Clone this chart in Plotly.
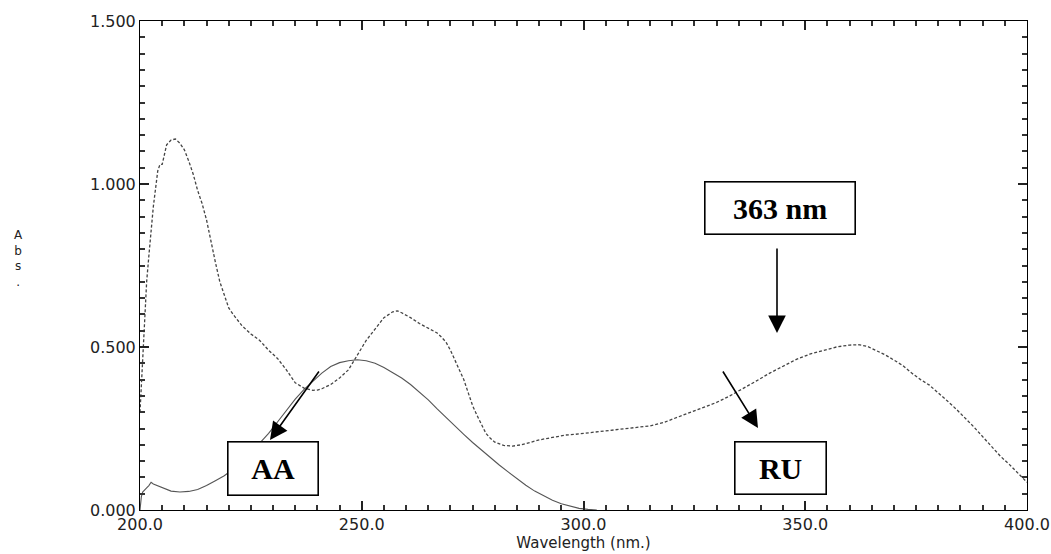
import plotly.graph_objects as go

# ---- data ----
aa_wl = [200, 200.3, 200.6, 201, 201.5, 202, 202.5, 203, 205, 207, 209, 211, 213, 215, 217, 219, 221, 223, 225,
         227, 229, 231, 233, 235, 237, 239, 241, 243, 245, 247, 249, 251, 253, 255, 257, 259, 261, 263,
         265, 267, 269, 271, 273, 275, 277, 279, 281, 283, 285, 287, 289, 291, 293, 295, 297, 299, 301, 303]
aa_abs = [0.0, 0.04, 0.055, 0.062, 0.068, 0.075, 0.085, 0.08, 0.068, 0.058, 0.055, 0.057, 0.063, 0.075, 0.09,
          0.105, 0.125, 0.15, 0.178, 0.205, 0.235, 0.27, 0.305, 0.34, 0.37, 0.395, 0.42, 0.44, 0.452, 0.458,
          0.461, 0.458, 0.45, 0.437, 0.422, 0.405, 0.385, 0.362, 0.338, 0.31, 0.283, 0.257, 0.232, 0.207,
          0.183, 0.16, 0.138, 0.117, 0.096, 0.076, 0.058, 0.043, 0.03, 0.019, 0.011, 0.005, 0.002, 0.0]

ru_wl = [200, 200.5, 201, 201.5, 202, 203, 204, 204.5, 205, 206, 207, 208, 209, 210, 211, 212, 213, 214, 215,
         216, 217, 218, 219, 220, 221, 223, 225, 227, 229, 231, 233, 235, 237, 239, 240, 241, 243, 245, 247,
         249, 251, 253, 255, 257, 258, 259, 261, 263, 265, 267, 268, 269, 270, 271, 272, 273, 274, 275, 276,
         277, 278, 279, 280, 282, 284, 286, 288, 290, 292, 294, 296, 298, 300, 303, 306, 309, 312, 315, 318,
         321, 324, 327, 330, 333, 336, 339, 342, 345, 348, 351, 354, 357, 360, 362, 364, 366, 368, 370, 372,
         374, 376, 378, 380, 382, 384, 386, 388, 390, 392, 394, 396, 398, 400]
ru_abs = [0.3, 0.45, 0.6, 0.7, 0.78, 0.93, 1.04, 1.06, 1.06, 1.12, 1.135, 1.138, 1.125, 1.105, 1.07, 1.03,
          0.98, 0.94, 0.89, 0.82, 0.76, 0.70, 0.66, 0.62, 0.60, 0.565, 0.54, 0.52, 0.49, 0.465, 0.43, 0.39,
          0.374, 0.367, 0.368, 0.372, 0.385, 0.405, 0.43, 0.475, 0.52, 0.555, 0.59, 0.608, 0.611, 0.605, 0.59,
          0.572, 0.558, 0.543, 0.53, 0.515, 0.49, 0.46, 0.43, 0.40, 0.36, 0.32, 0.29, 0.26, 0.235, 0.22, 0.208,
          0.198, 0.196, 0.2, 0.208, 0.215, 0.22, 0.226, 0.23, 0.232, 0.235, 0.238, 0.243, 0.247, 0.252, 0.258,
          0.268, 0.283, 0.298, 0.313, 0.33, 0.35, 0.372, 0.396, 0.42, 0.442, 0.462, 0.478, 0.49, 0.5, 0.506,
          0.507, 0.502, 0.49, 0.476, 0.46, 0.443, 0.42, 0.40, 0.383, 0.36, 0.335, 0.31, 0.283, 0.255, 0.225,
          0.195, 0.165, 0.14, 0.113, 0.085]

x_range = [200, 400]
y_range = [0, 1.5]
x_tick_step, x_minor_step = 50, 5
y_tick_step, y_minor_step = 0.5, 0.05
x_title = "Wavelength (nm.)"
y_title = "A<br>b<br>s<br>."

# ---- layout geometry ----
W, H = 1051, 554
L, R, T, B = 140, 1027, 21, 510

def px2x(px):
    return x_range[0] + (px - L) / (R - L) * (x_range[1] - x_range[0])

def px2y(py):
    return y_range[0] + (B - py) / (B - T) * (y_range[1] - y_range[0])

fig = go.Figure()
fig.add_trace(go.Scatter(x=aa_wl, y=aa_abs, mode="lines",
                         line=dict(color="#555555", width=1.1), showlegend=False))
fig.add_trace(go.Scatter(x=ru_wl, y=ru_abs, mode="lines",
                         line=dict(color="#444444", width=1.3, dash="3px,2px"), showlegend=False))

tick_font = dict(family="DejaVu Sans", size=16, color="#222222")

# axis lines / inside ticks in the same dark grey as the scan
fig.update_xaxes(range=x_range, tick0=x_range[0], dtick=x_tick_step, tickmode="linear", tickformat=".1f",
                 showline=True, linecolor="black", mirror="allticks", ticks="inside",
                 ticklen=9, tickwidth=2, tickcolor="#222222", tickfont=tick_font,
                 showgrid=False, zeroline=False, automargin=False,
                 minor=dict(dtick=x_minor_step, ticks="inside", ticklen=5, tickwidth=1.5, tickcolor="#333333"),
                 title=dict(text=x_title, font=dict(family="DejaVu Sans", size=15, color="#222222"), standoff=0))
fig.update_yaxes(range=y_range, tick0=y_range[0], dtick=y_tick_step, tickmode="linear", tickformat=".3f",
                 showline=True, linecolor="black", mirror="allticks", ticks="inside",
                 ticklen=9, tickwidth=2, tickcolor="#222222", tickfont=tick_font,
                 showgrid=False, zeroline=False, automargin=False,
                 minor=dict(dtick=y_minor_step, ticks="inside", ticklen=5, tickwidth=1.5, tickcolor="#333333"))

annotations = []
# vertical stacked y-axis label
annotations.append(dict(text=y_title, xref="paper", yref="paper",
                        x=(18 - L) / (R - L), y=(B - 258) / (B - T), showarrow=False,
                        xanchor="center", yanchor="middle", align="center",
                        font=dict(family="DejaVu Sans", size=12, color="#222222")))

box_font = dict(family="Liberation Serif", size=30, color="black")
boxes = [("<b>363 nm</b>", 704, 856, 181, 235), ("<b>AA</b>", 227, 319, 441, 496), ("<b>RU</b>", 734, 827, 441, 495)]
for txt, x0, x1, y0, y1 in boxes:
    annotations.append(dict(text=txt, x=px2x((x0 + x1) / 2), y=px2y((y0 + y1) / 2), showarrow=False,
                            width=x1 - x0 - 3, height=y1 - y0 - 3, borderpad=0,
                            bordercolor="black", borderwidth=1.6, bgcolor="white", font=box_font,
                            xanchor="center", yanchor="middle"))

arrows = [((777, 333), (777, 247)), ((270, 440), (320, 370)), ((758, 428), (722, 370))]
for (tx, ty), (sx, sy) in arrows:
    annotations.append(dict(text="", x=px2x(tx), y=px2y(ty), ax=sx - tx, ay=sy - ty, showarrow=True,
                            arrowhead=2, arrowsize=2.2, arrowwidth=1.6, arrowcolor="black", standoff=0))

fig.update_layout(width=W, height=H, margin=dict(l=L, r=W - R, t=T, b=H - B),
                  paper_bgcolor="white", plot_bgcolor="white", annotations=annotations)

fig.write_html("out.html")
